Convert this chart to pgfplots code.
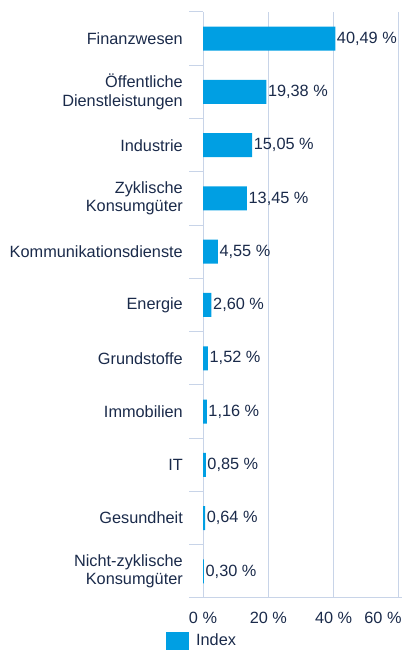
\documentclass[border=0pt]{standalone}
\usepackage{fontspec}
\setmainfont{Liberation Sans}
\usepackage{pgfplots}
\pgfplotsset{compat=1.18}
\usepackage{pgfplotstable}
\definecolor{barc}{HTML}{009FE3}
\definecolor{gridc}{HTML}{C8D4E8}
\definecolor{txt}{HTML}{1A2A4A}
\pgfplotstableread[col sep=semicolon]{
y;val;lab
10;40.49;40,49
9;19.38;19,38
8;15.05;15,05
7;13.45;13,45
6;4.55;4,55
5;2.60;2,60
4;1.52;1,52
3;1.16;1,16
2;0.85;0,85
1;0.64;0,64
0;0.30;0,30
}\datatable
\begin{document}
\begin{tikzpicture}
\path[use as bounding box] (0,0) rectangle (402bp,651bp);
\begin{axis}[
  at={(203bp,53bp)}, anchor=south west,
  scale only axis, width=196bp, height=586bp,
  font=\fontsize{16.3bp}{18.5bp}\selectfont,
  xmin=0, xmax=60, ymin=-0.5, ymax=10.5,
  axis x line*=bottom, axis y line*=left,
  axis line style={gridc, line width=1bp, -},
  x axis line style={shorten <=-14bp, shorten >=-3bp},
  xtick={0,20,40,60},
  xticklabels={0 \%, 20 \%, 40 \%, \hspace*{-32bp}60 \%},
  xticklabel style={anchor=base, yshift=-26bp, text=txt, inner sep=0pt},
  ytick={0,...,10},
  yticklabels={{Nicht-zyklische\\Konsumgüter}, Gesundheit, IT, Immobilien, Grundstoffe, Energie, Kommunikationsdienste, {Zyklische\\Konsumgüter}, Industrie, {Öffentliche\\Dienstleistungen}, Finanzwesen},
  yticklabel style={anchor=east, align=right, inner sep=0pt, xshift=-20bp, text=txt},
  minor ytick={-0.5,0.5,...,10.5},
  major tick length=0pt, minor tick length=14bp, tick align=outside,
  minor tick style={gridc, line width=1bp},
  xmajorgrids, major grid style={gridc, line width=1bp},
  clip=false,
  legend style={draw=none, fill=none, at={(-0.189,-0.0736)}, anchor=west, inner sep=0pt, text=txt,
    /tikz/every odd column/.style={column sep=5bp}},
  legend cell align=left,
  legend image code/.code={\fill[barc] (0bp,-10bp) rectangle (23bp,8bp);},
]
\addplot[xbar, fill=barc, draw=none, bar width=24bp,
  point meta=explicit symbolic,
  nodes near coords={\pgfplotspointmeta~\%},
  nodes near coords style={anchor=west, inner xsep=1.5bp, text=txt}]
  table[x=val, y=y, meta=lab] {\datatable};
\addlegendentry{Index}
\end{axis}
\end{tikzpicture}
\end{document}
